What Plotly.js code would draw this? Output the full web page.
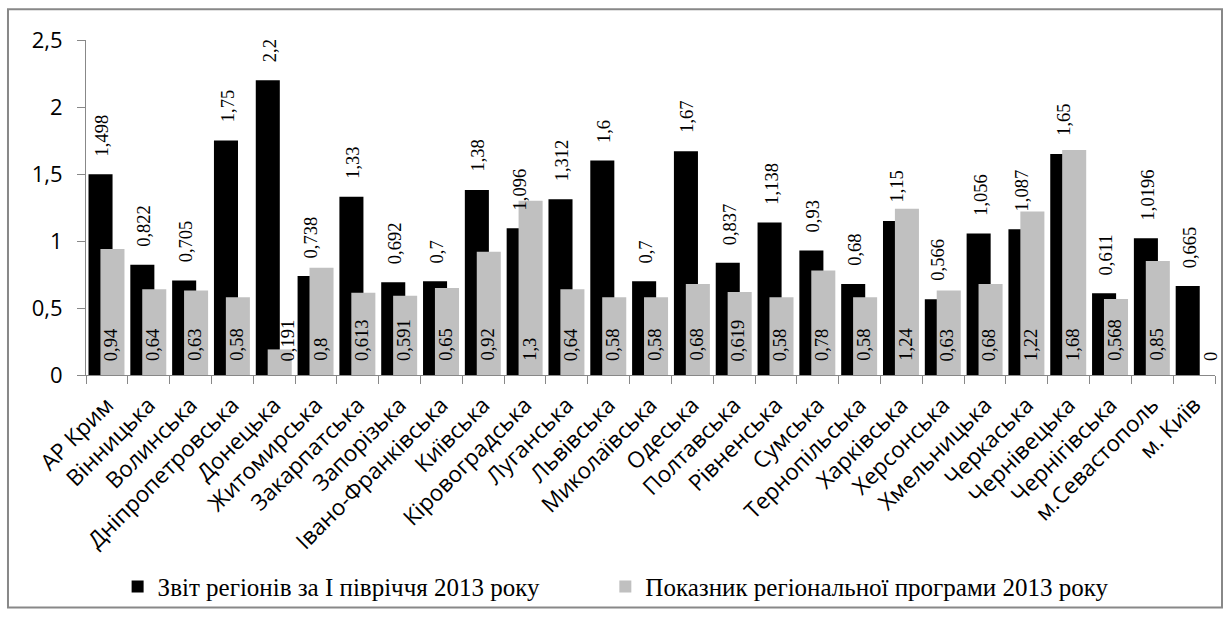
<!DOCTYPE html>
<html>
<head>
<meta charset="utf-8">
<script src="https://cdn.plot.ly/plotly-3.0.1.min.js"></script>
<style>
html,body{margin:0;padding:0;background:#fff;}
#chart{width:1231px;height:621px;}
</style>
</head>
<body>
<div id="chart"></div>
<script>
const categories = ["АР Крим","Вінницька","Волинська","Дніпропетровська","Донецька","Житомирська","Закарпатська","Запорізька","Івано-Франківська","Київська","Кіровоградська","Луганська","Львівська","Миколаївська","Одеська","Полтавська","Рівненська","Сумська","Тернопільська","Харківська","Херсонська","Хмельницька","Черкаська","Чернівецька","Чернігівська","м.Севастополь","м. Київ"];
const reportValues = [1.498,0.822,0.705,1.75,2.2,0.738,1.33,0.692,0.7,1.38,1.096,1.312,1.6,0.7,1.67,0.837,1.138,0.93,0.68,1.15,0.566,1.056,1.087,1.65,0.611,1.0196,0.665];
const programValues = [0.94,0.64,0.63,0.58,0.191,0.8,0.613,0.591,0.65,0.92,1.3,0.64,0.58,0.58,0.68,0.619,0.58,0.78,0.58,1.24,0.63,0.68,1.22,1.68,0.568,0.85,0];
const seriesNames = ["Звіт регіонів за І півріччя 2013 року","Показник регіональної програми 2013 року"];

const fmt = v => String(v).replace('.', ',');
const serif = 'Liberation Serif, Times New Roman, serif';

const barW = 0.575;
const offReport = -0.44, offProgram = -0.155;
// label nudges (px) where the original labels were shifted off their bars
const programLabelShift = {4: 10, 26: 12};

const traceReport = {
  type:'bar', x:categories, y:reportValues, name:seriesNames[0], legend:'legend',
  marker:{color:'#000000'}, offset:offReport, width:barW, hoverinfo:'x+y'
};
const traceProgram = {
  type:'bar', x:categories, y:programValues, name:seriesNames[1], legend:'legend2',
  marker:{color:'#c0c0c0'}, offset:offProgram, width:barW, hoverinfo:'x+y'
};

const annotations = [];
reportValues.forEach((v,i)=>{
  annotations.push({x:i+offReport+barW/2+0.04, y:v, xref:'x', yref:'y', text:fmt(v), showarrow:false,
    textangle:-90, xanchor:'center', yanchor:'bottom', yshift:16,
    font:{family:serif, size:18.5, color:'#000'}});
});
programValues.forEach((v,i)=>{
  annotations.push({x:i+offProgram+barW/2-0.03, y:0, xref:'x', yref:'y', text:fmt(v), showarrow:false,
    textangle:-90, xanchor:'center', yanchor:'bottom', yshift:12, xshift:programLabelShift[i]||0,
    font:{family:serif, size:18.5, color:'#000'}});
});

const legendCommon = {orientation:'h', xanchor:'left', y:-0.632, yanchor:'middle',
  bgcolor:'rgba(0,0,0,0)', font:{family:serif, size:25, color:'#000'}};

const layout = {
  width:1231, height:621,
  margin:{l:86, r:16, t:40, b:244},
  paper_bgcolor:'#fff', plot_bgcolor:'#fff',
  separators:',.',
  barmode:'overlay',
  showlegend:true,
  legend:Object.assign({x:0.028}, legendCommon),
  legend2:Object.assign({x:0.46}, legendCommon),
  xaxis:{type:'category', tickangle:-45, showgrid:false, showline:true, linecolor:'#888', linewidth:1,
         ticks:'outside', tickson:'boundaries', ticklen:8, tickcolor:'#888',
         ticklabelstandoff:7,
         tickfont:{family:'Open Sans, sans-serif', size:22.5, color:'#000'}, range:[-0.5,26.5]},
  yaxis:{range:[0,2.5], dtick:0.5, showgrid:false, showline:true, linecolor:'#888', linewidth:1,
         ticks:'outside', ticklen:8, tickcolor:'#888', zeroline:false, ticklabelstandoff:10,
         tickfont:{family:'Open Sans, sans-serif', size:22, color:'#000'}},
  annotations:annotations,
  shapes:[{type:'rect', xref:'paper', yref:'paper', x0:-0.0691, x1:1.0062, y0:-0.694, y1:1.092,
           line:{color:'#888', width:2}, fillcolor:'rgba(0,0,0,0)', layer:'below'}]
};

Plotly.newPlot('chart', [traceReport, traceProgram], layout, {displayModeBar:false, staticPlot:true});
</script>
</body>
</html>
